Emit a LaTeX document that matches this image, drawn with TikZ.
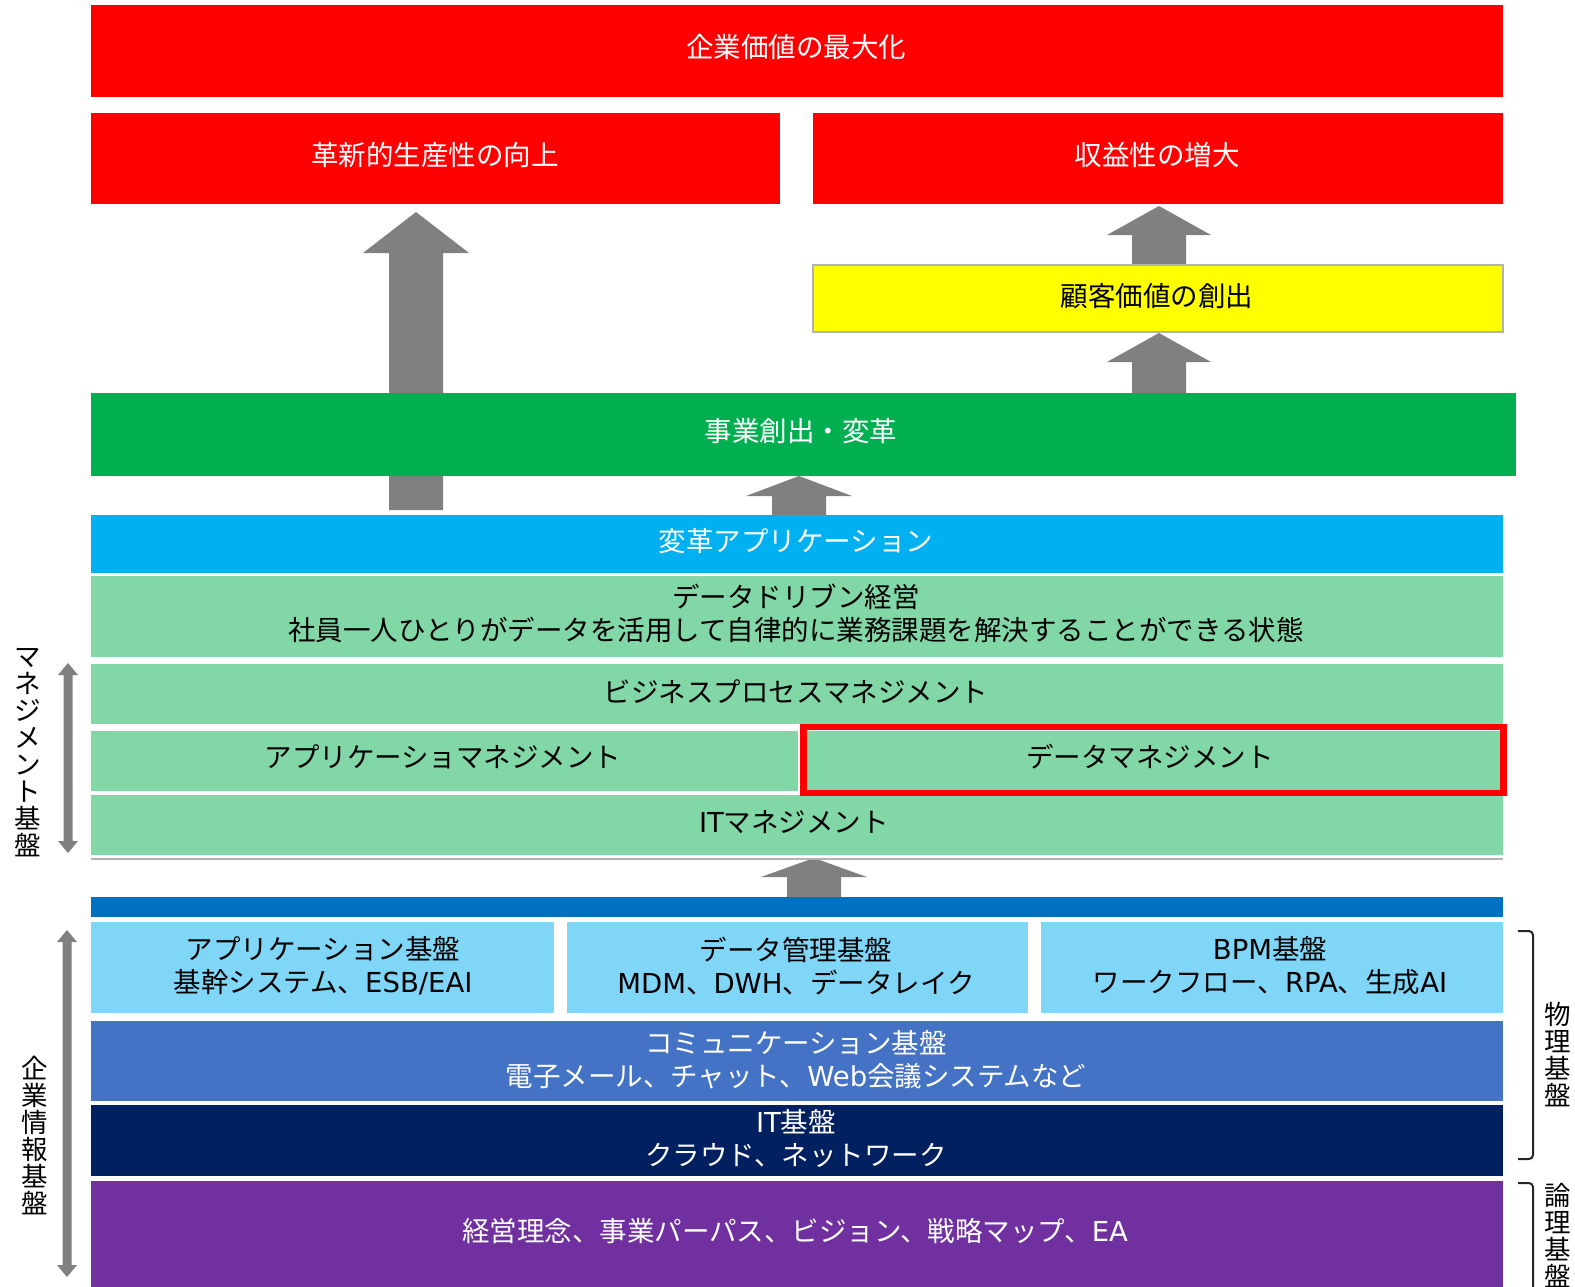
\documentclass[tikz,border=0pt]{standalone}
\usepackage{fontspec}
\setmainfont{Noto Sans CJK JP}
\newfontfamily\lat{DejaVu Sans}
\definecolor{cred}{HTML}{FF0000}
\definecolor{cyel}{HTML}{FFFF00}
\definecolor{cgrn}{HTML}{00B050}
\definecolor{cblu}{HTML}{00B0F0}
\definecolor{clgr}{HTML}{82D7A6}
\definecolor{cbar}{HTML}{0070C0}
\definecolor{clbl}{HTML}{80D6F7}
\definecolor{ccom}{HTML}{4472C4}
\definecolor{cnav}{HTML}{002060}
\definecolor{cpur}{HTML}{7030A0}
\definecolor{arrowgray}{HTML}{808080}
\definecolor{bracketc}{HTML}{262626}
\newcommand\blockup[5]{% cx, bottom, base, tip, half head width
  \fill[arrowgray] ({#1-27},#2) -- ({#1-27},#3) -- ({#1-#5},#3) -- (#1,#4) -- ({#1+#5},#3) -- ({#1+27},#3) -- ({#1+27},#2) -- cycle;}
\newcommand\dblarrow[3]{% cx, top, bottom
  \fill[arrowgray] (#1,#2) -- ({#1+10},{#2+12}) -- ({#1+4.5},{#2+12}) -- ({#1+4.5},{#3-12}) -- ({#1+10},{#3-12}) -- (#1,#3) -- ({#1-10},{#3-12}) -- ({#1-4.5},{#3-12}) -- ({#1-4.5},{#2+12}) -- ({#1-10},{#2+12}) -- cycle;}
\begin{document}
\begin{tikzpicture}[x=1pt,y=-1pt,
  box/.style={rectangle, inner sep=0pt, outer sep=0pt, anchor=north west},
  txt/.style={font=\fontsize{27.5}{33}\selectfont, align=center, inner sep=0pt},
  txtw/.style={txt, text=white},
  txtb/.style={txt, text=black},
  vlab/.style={font=\fontsize{26.5}{27}\selectfont, align=center, inner sep=0pt, text=black},
  brk/.style={draw=bracketc, line width=2pt, rounded corners=4pt}]
\useasboundingbox (0,0) rectangle (1575,1287);
\clip (0,0) rectangle (1575,1287);

% block arrows (behind the boxes)
\blockup{416}{510}{253}{212}{53}
\blockup{799}{516}{496}{476}{53}
\blockup{1159}{266}{235}{206}{52}
\blockup{1159}{394}{362}{333}{52}
\blockup{814}{898}{877}{858}{53}

% boxes
\node[box, fill=cred, minimum width=1412, minimum height=92] (r0) at (91,5) {};
\node[box, fill=cred, minimum width=689, minimum height=91] (r1) at (91,113) {};
\node[box, fill=cred, minimum width=690, minimum height=91] (r2) at (813,113) {};
\node[box, fill=cyel, draw=black!30, line width=1.2pt, minimum width=690, minimum height=67] (yel) at (813,265) {};
\node[box, fill=cgrn, minimum width=1425, minimum height=83] (grn) at (91,393) {};
\node[box, fill=cblu, minimum width=1412, minimum height=58] (chg) at (91,515) {};
\node[box, fill=clgr, minimum width=1412, minimum height=81] (dd) at (91,576) {};
\node[box, fill=clgr, minimum width=1412, minimum height=60] (bpm) at (91,664) {};
\node[box, fill=clgr, minimum width=707, minimum height=60] (am) at (91,731) {};
\node[box, fill=clgr, minimum width=698, minimum height=60] (dm) at (805,731) {};
\node[box, fill=clgr, minimum width=1412, minimum height=60] (itm) at (91,795) {};
\node[box, fill=cbar, minimum width=1412, minimum height=20] (bar) at (91,897) {};
\node[box, fill=clbl, minimum width=463, minimum height=91] (ab) at (91,922) {};
\node[box, fill=clbl, minimum width=461, minimum height=91] (db) at (567,922) {};
\node[box, fill=clbl, minimum width=462, minimum height=91] (bb) at (1041,922) {};
\node[box, fill=ccom, minimum width=1412, minimum height=80] (com) at (91,1021) {};
\node[box, fill=cnav, minimum width=1412, minimum height=71] (itb) at (91,1105) {};
\node[box, fill=cpur, minimum width=1412, minimum height=130] (pur) at (91,1181) {};

% red frame around data management
\node[draw=cred, line width=6.5pt, minimum width=700, minimum height=66, inner sep=0pt] (dmf) at (1153.5,760) {};
% thin grey line under IT management
\draw[draw=black!30, line width=2pt] (91,859) coordinate (gl1) -- (1503,859) coordinate (gl2);

% texts
\node[txtw] (t-r0) at (796,47) {企業価値の最大化};
\node[txtw] (t-r1) at (435,155) {革新的生産性の向上};
\node[txtw] (t-r2) at (1157,155) {収益性の増大};
\node[txtb] (t-yel) at (1157,296) {顧客価値の創出};
\node[txtw] (t-grn) at (801,431) {事業創出・変革};
\node[txtw] (t-chg) at (796,541) {変革アプリケーション};
\node[txtb] (t-dd) at (796,613) {データドリブン経営\\社員一人ひとりがデータを活用して自律的に業務課題を解決することができる状態};
\node[txtb] (t-bpm) at (796,692) {ビジネスプロセスマネジメント};
\node[txtb] (t-am) at (443,757) {アプリケーショマネジメント};
\node[txtb] (t-dm) at (1150,757) {データマネジメント};
\node[txtb] (t-itm) at (794,822) {{\lat IT}マネジメント};
\node[txtb] (t-ab) at (323,966) {アプリケーション基盤\\基幹システム、{\lat ESB/EAI}};
\node[txtb] (t-db) at (796,966) {データ管理基盤\\{\lat MDM}、{\lat DWH}、データレイク};
\node[txtb] (t-bb) at (1270,966) {{\lat BPM}基盤\\ワークフロー、{\lat RPA}、生成{\lat AI}};
\node[txtw] (t-com) at (796,1060) {コミュニケーション基盤\\電子メール、チャット、{\lat Web}会議システムなど};
\node[txtw] (t-itb) at (796,1138) {{\lat IT}基盤\\クラウド、ネットワーク};
\node[txtw] (t-pur) at (795,1231) {経営理念、事業パーパス、ビジョン、戦略マップ、{\lat EA}};

% left side labels and double arrows
\node[vlab] (l-mg) at (28,753) {マ\\ネ\\ジ\\メ\\ン\\ト\\基\\盤};
\dblarrow{68}{663}{853}
\node[vlab] (l-ent) at (35,1135) {企\\業\\情\\報\\基\\盤};
\dblarrow{67}{930}{1277}

% right side brackets and labels
\draw[brk] (1518,931) -- (1533,931) -- (1533,1159) -- (1518,1159);
\node[vlab] (l-phy) at (1558,1055) {物\\理\\基\\盤};
\draw[brk] (1518,1183) -- (1533,1183) -- (1533,1320);
\node[vlab, anchor=north] (l-log) at (1558,1183) {論\\理\\基\\盤};
\end{tikzpicture}
\end{document}
